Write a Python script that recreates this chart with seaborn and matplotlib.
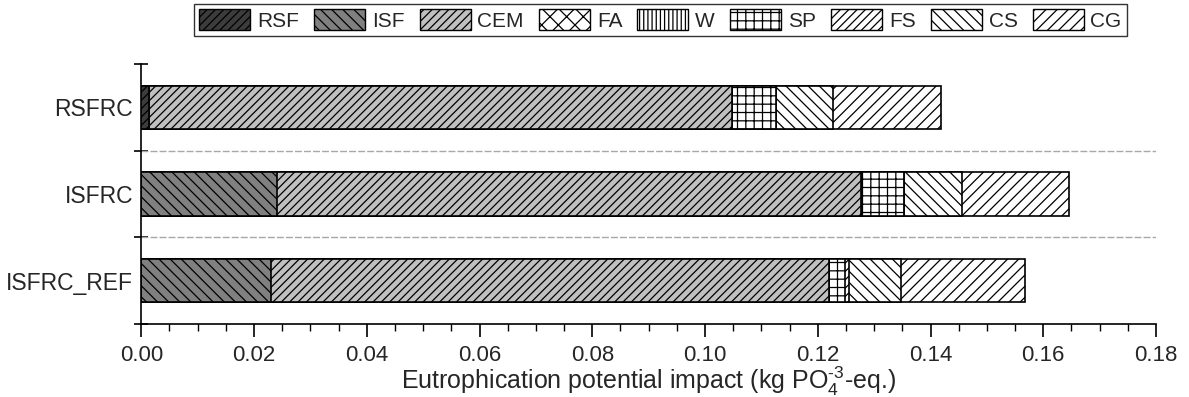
import matplotlib
matplotlib.use("Agg")
import matplotlib.pyplot as plt
from matplotlib.patches import Patch
from matplotlib.ticker import MultipleLocator, FixedLocator
import numpy as np
import pandas as pd
import seaborn as sns

# ---- data ----
categories = ["RSFRC", "ISFRC", "ISFRC_REF"]
components = ["RSF", "ISF", "CEM", "FA", "W", "SP", "FS", "CS", "CG"]
RSF = [0.0013, 0.0, 0.0]
ISF = [0.0, 0.0240, 0.0230]
CEM = [0.1035, 0.1036, 0.0990]
FA = [0.0, 0.0, 0.0]
W = [0.0, 0.0, 0.0]
SP = [0.0078, 0.0077, 0.0028]
FS = [0.0, 0.0, 0.0008]
CS = [0.0101, 0.0103, 0.0092]
CG = [0.0191, 0.0190, 0.0220]
xticks = [0.00, 0.02, 0.04, 0.06, 0.08, 0.10, 0.12, 0.14, 0.16, 0.18]

values = {"RSF": RSF, "ISF": ISF, "CEM": CEM, "FA": FA, "W": W,
          "SP": SP, "FS": FS, "CS": CS, "CG": CG}

face = {"RSF": "#3c3c3c", "ISF": "#808080", "CEM": "#c0c0c0", "FA": "white",
        "W": "white", "SP": "white", "FS": "white", "CS": "white", "CG": "white"}
hatch = {"RSF": "////", "ISF": "\\\\\\", "CEM": "////", "FA": "xx",
         "W": "||||", "SP": "++", "FS": "////", "CS": "\\\\\\", "CG": "///"}

sns.set_style("ticks")
plt.rcParams["font.family"] = ["Liberation Sans", "DejaVu Sans"]
plt.rcParams["mathtext.fontset"] = "custom"
plt.rcParams["mathtext.rm"] = "Liberation Sans"
plt.rcParams["mathtext.it"] = "Liberation Sans"
plt.rcParams["hatch.linewidth"] = 0.9
plt.rcParams["hatch.color"] = "black"

fig = plt.figure(figsize=(11.89, 3.97), dpi=100)
ax = fig.add_axes([0.1188, 0.1839, 0.9723 - 0.1188, 0.8388 - 0.1839])

# cumulative sums; draw from the largest total down so each segment sits on top
cum = {}
run = np.zeros(len(categories))
for c in components:
    run = run + np.array(values[c])
    cum[c] = run.copy()

for c in reversed(components):
    df = pd.DataFrame({"cat": categories, "val": cum[c]})
    sns.barplot(data=df, x="val", y="cat", orient="h", color=face[c],
                saturation=1, width=0.5, hatch=hatch[c], edgecolor="black",
                linewidth=1.2, ax=ax, zorder=3)

for yv in [0.5, 1.5]:
    ax.axhline(yv, color="#a8a8a8", lw=1.0, ls=(0, (5, 1.5)), zorder=1)

ax.set_xlim(0, 0.18)
ax.set_ylim(2.5, -0.5)
ax.set_xticks(xticks)
ax.set_xticklabels([f"{t:.2f}" for t in xticks])
ax.xaxis.set_minor_locator(MultipleLocator(0.005))
ax.yaxis.set_minor_locator(FixedLocator([-0.5, 0.5, 1.5, 2.5]))
ax.tick_params(axis="x", which="major", direction="out", length=9, width=1.2,
               labelsize=16, pad=6, color="black")
ax.tick_params(axis="x", which="minor", direction="out", length=5, width=1.0,
               color="black")
ax.tick_params(axis="y", which="major", length=0, labelsize=16.5, pad=6)
ax.tick_params(axis="y", which="minor", direction="inout", length=10, width=1.2,
               color="black")

for s in ["top", "right"]:
    ax.spines[s].set_visible(False)
for s in ["left", "bottom"]:
    ax.spines[s].set_color("black")
    ax.spines[s].set_linewidth(1.2)

ax.set_ylabel("")
ax.set_xlabel(r"Eutrophication potential impact (kg PO$_4^{\text{-3}}$-eq.)",
              fontsize=18, labelpad=-1)

handles = [Patch(facecolor=face[c], edgecolor="black", hatch=hatch[c],
                 linewidth=1.0, label=c) for c in components]
leg = fig.legend(handles=handles, loc="center", bbox_to_anchor=(0.5555, 0.9496),
                 ncol=9, frameon=True, fancybox=False, fontsize=15,
                 handlelength=2.45, handleheight=1.15, handletextpad=0.33,
                 columnspacing=0.72, borderpad=0.25, borderaxespad=0)
leg.get_frame().set_edgecolor("black")
leg.get_frame().set_linewidth(1.0)

fig.savefig("out.png", dpi=100)
